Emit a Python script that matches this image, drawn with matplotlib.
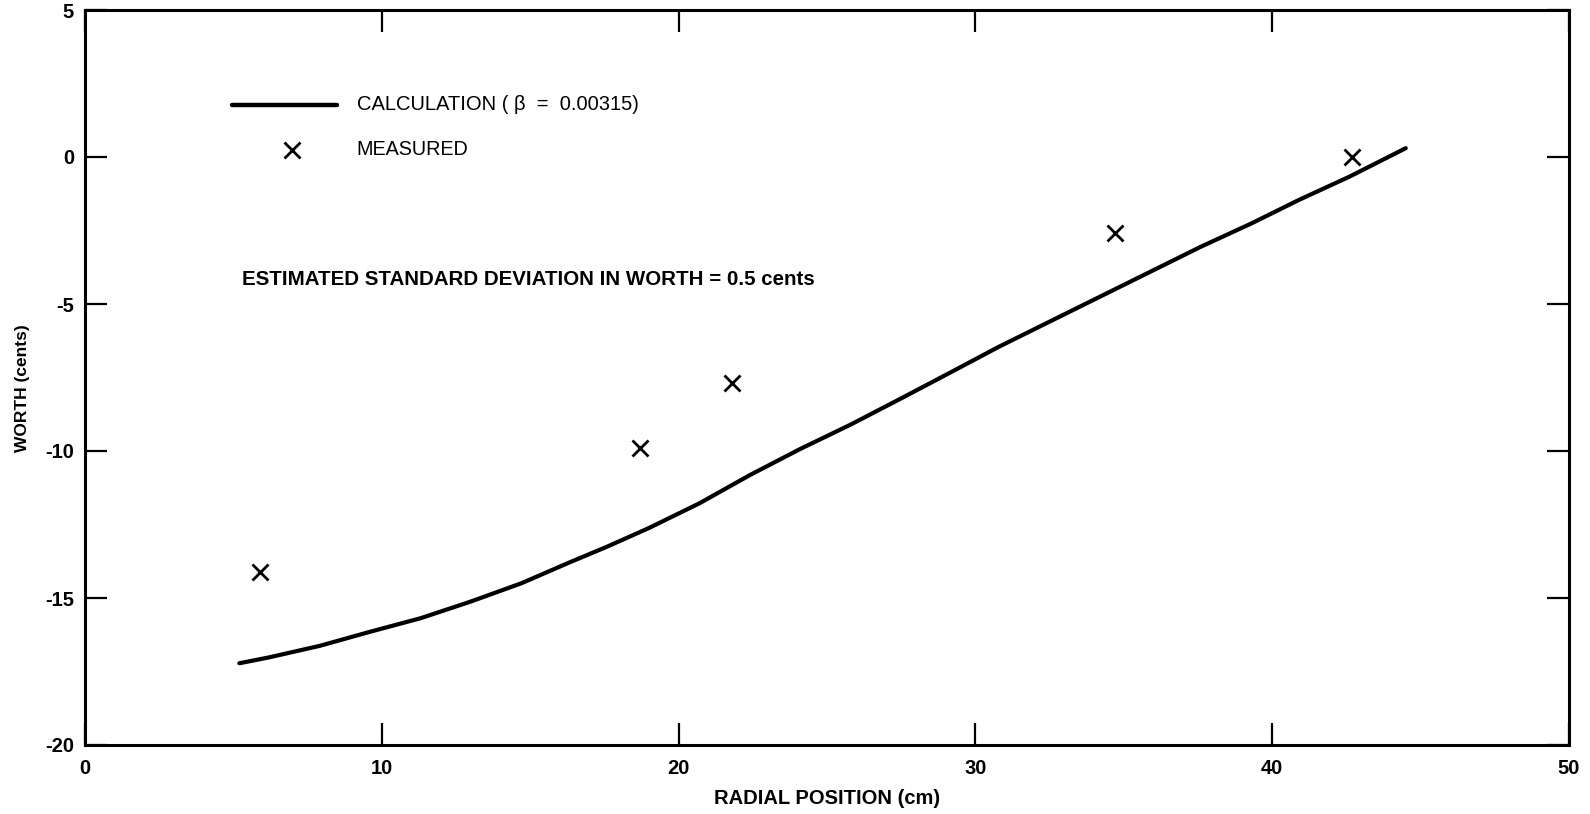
import matplotlib
matplotlib.use("Agg")
import matplotlib.pyplot as plt

# Calculated curve (cm, cents)
calc_x = [5.2, 6.2, 7.9, 9.6, 11.3, 13.0, 14.7, 16.3, 17.6, 19.0, 20.7, 22.4,
          24.1, 25.8, 27.5, 29.1, 30.8, 32.5, 34.2, 35.9, 37.6, 39.3, 40.9,
          42.6, 44.5]
calc_y = [-17.22, -17.02, -16.63, -16.15, -15.69, -15.12, -14.50, -13.80,
          -13.25, -12.62, -11.78, -10.82, -9.93, -9.10, -8.21, -7.36, -6.45,
          -5.60, -4.75, -3.90, -3.05, -2.26, -1.46, -0.67, 0.30]

# Measured points
meas_x = [5.9, 18.7, 21.8, 34.7, 42.7]
meas_y = [-14.1, -9.9, -7.7, -2.6, 0.0]

xticks = [0, 10, 20, 30, 40, 50]
yticks = [5, 0, -5, -10, -15, -20]

plt.rcParams['font.family'] = ['Liberation Sans', 'DejaVu Sans']

fig = plt.figure(figsize=(15.9, 8.14), dpi=100)
ax = fig.add_axes([85/1590, 1-745/814, (1569-85)/1590, (745-10)/814])

ax.plot(calc_x, calc_y, color='black', lw=3.0, solid_capstyle='round',
        solid_joinstyle='round')
ax.plot(meas_x, meas_y, linestyle='none', marker='x', color='black',
        markersize=12, markeredgewidth=2.0)

ax.set_xlim(0, 50)
ax.set_ylim(-20, 5)
ax.set_xticks(xticks)
ax.set_yticks(yticks)
ax.set_xticklabels([str(t) for t in xticks], fontsize=14.5, fontweight='bold')
ax.set_yticklabels([str(t) for t in yticks], fontsize=14.5, fontweight='bold')
ax.tick_params(axis='both', direction='in', length=16, width=1.6,
               top=True, right=True, pad=8)
ax.tick_params(axis='x', pad=10)
for s in ax.spines.values():
    s.set_linewidth(2.2)

ax.set_xlabel('RADIAL POSITION (cm)', fontsize=14.5, fontweight='bold', labelpad=8)
ax.set_ylabel('WORTH (cents)', fontsize=12.5, fontweight='bold')
ax.yaxis.set_label_coords(-0.037, 0.485)

# Legend drawn manually in data coordinates
ax.plot([4.95, 8.5], [1.77, 1.77], color='black', lw=3.2, solid_capstyle='round')
ax.text(9.15, 1.77, 'CALCULATION ( β  =  0.00315)', fontsize=14.5,
        va='center', ha='left')
ax.plot([6.98], [0.25], linestyle='none', marker='x', color='black',
        markersize=12, markeredgewidth=2.0)
ax.text(9.15, 0.25, 'MEASURED', fontsize=14.2, va='center', ha='left')

ax.text(5.3, -4.18, 'ESTIMATED STANDARD DEVIATION IN WORTH = 0.5 cents',
        fontsize=14.8, fontweight='bold', va='center', ha='left')

fig.savefig('out.png', dpi=100)
